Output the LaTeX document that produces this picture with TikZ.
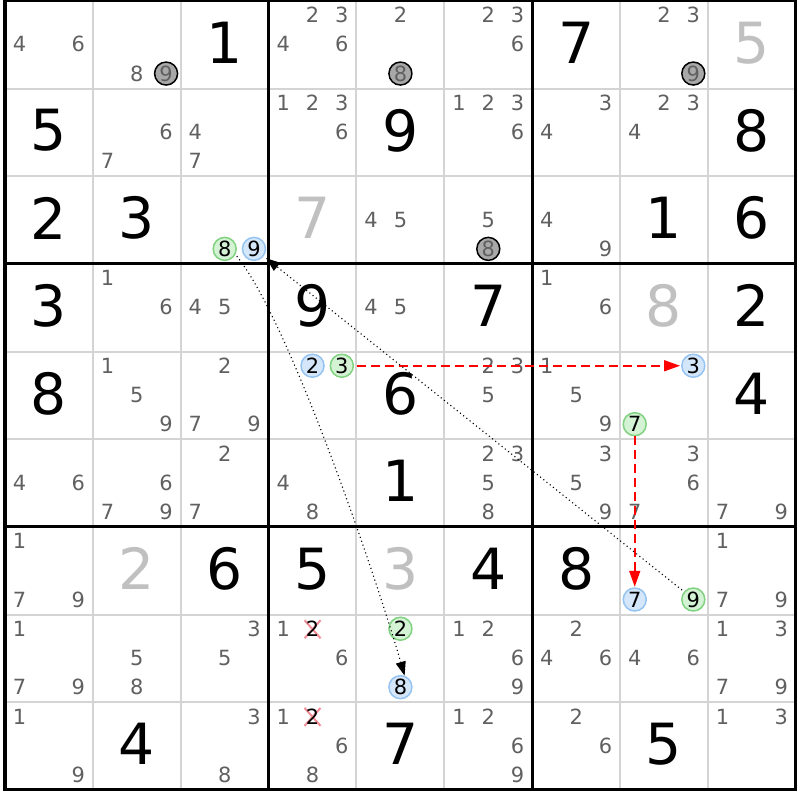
\documentclass[tikz,border=0pt]{standalone}
\usepackage{fontspec}
\setmainfont{DejaVu Sans}
\usetikzlibrary{arrows.meta}

\begin{document}
\begin{tikzpicture}[x=29.29bp,y=-29.22bp,line join=miter,
  pencil/.style={inner sep=0pt,yshift=0.5bp,text=pencilgray,font=\fontsize{21}{21}\selectfont},
  given/.style={inner sep=0pt,yshift=2bp,text=black,font=\fontsize{57}{57}\selectfont},
  solved/.style={given,text=solvedgray},
  circled/.style={pencil,circle,minimum size=23bp,line width=1.5bp},
  graymark/.style={circled,draw=black,fill=markgray},
  greenmark/.style={circled,text=black,draw=greenline,fill=greenfill},
  bluemark/.style={circled,text=black,draw=blueline,fill=bluefill},
  crossed/.style={pencil,text=black},
  crossline/.style={draw=crossred,line width=2bp},
  cellline/.style={draw=thingray,line width=2bp},
  boxline/.style={draw=black,line width=3bp},
  chainred/.style={draw=red,line width=1.6bp,dash pattern=on 9bp off 5bp,-{Triangle[length=16bp,width=11bp]}},
  chainblack/.style={draw=black,line width=1.1bp,dash pattern=on 1.1bp off 3bp,-{Triangle[length=14bp,width=10bp]}},
]
  \definecolor{pencilgray}{RGB}{96,96,96}
  \definecolor{solvedgray}{RGB}{192,192,192}
  \definecolor{thingray}{RGB}{212,212,212}
  \definecolor{markgray}{RGB}{168,168,168}
  \definecolor{greenline}{RGB}{128,210,128}
  \definecolor{greenfill}{RGB}{212,242,212}
  \definecolor{blueline}{RGB}{150,196,242}
  \definecolor{bluefill}{RGB}{212,230,250}
  \definecolor{crossred}{RGB}{242,140,150}
  \useasboundingbox (-0.1707,-0.0342) rectangle (27.1424,27.3443);
%%
  % Grid: cell lines
  \draw[cellline] (3,0) -- (3,27);
  \draw[cellline] (6,0) -- (6,27);
  \draw[cellline] (12,0) -- (12,27);
  \draw[cellline] (15,0) -- (15,27);
  \draw[cellline] (21,0) -- (21,27);
  \draw[cellline] (24,0) -- (24,27);
  \draw[cellline] (0,3) -- (27,3);
  \draw[cellline] (0,6) -- (27,6);
  \draw[cellline] (0,12) -- (27,12);
  \draw[cellline] (0,15) -- (27,15);
  \draw[cellline] (0,21) -- (27,21);
  \draw[cellline] (0,24) -- (27,24);
  % Grid: box lines
  \draw[boxline] (9,0) -- (9,27);
  \draw[boxline] (18,0) -- (18,27);
  \draw[boxline] (0,9) -- (27,9);
  \draw[boxline] (0,18) -- (27,18);
  \draw[boxline] (0,0) rectangle (27,27);
%%
  % Cell: r1c1
\begin{scope}[shift={(0,0)}]
  \node (r1c1d4) [pencil] at (0.5,1.5) {4};
  \node (r1c1d6) [pencil] at (2.5,1.5) {6};
\end{scope}
  % Cell: r1c2
\begin{scope}[shift={(3,0)}]
  \node (r1c2d8) [pencil] at (1.5,2.5) {8};
  \node (r1c2d9) [graymark] at (2.5,2.5) {9};
\end{scope}
  % Cell: r1c3
\begin{scope}[shift={(6,0)}]
  \node (r1c3) [given] at (1.5,1.5) {1};
\end{scope}
  % Cell: r1c4
\begin{scope}[shift={(9,0)}]
  \node (r1c4d2) [pencil] at (1.5,0.5) {2};
  \node (r1c4d3) [pencil] at (2.5,0.5) {3};
  \node (r1c4d4) [pencil] at (0.5,1.5) {4};
  \node (r1c4d6) [pencil] at (2.5,1.5) {6};
\end{scope}
  % Cell: r1c5
\begin{scope}[shift={(12,0)}]
  \node (r1c5d2) [pencil] at (1.5,0.5) {2};
  \node (r1c5d8) [graymark] at (1.5,2.5) {8};
\end{scope}
  % Cell: r1c6
\begin{scope}[shift={(15,0)}]
  \node (r1c6d2) [pencil] at (1.5,0.5) {2};
  \node (r1c6d3) [pencil] at (2.5,0.5) {3};
  \node (r1c6d6) [pencil] at (2.5,1.5) {6};
\end{scope}
  % Cell: r1c7
\begin{scope}[shift={(18,0)}]
  \node (r1c7) [given] at (1.5,1.5) {7};
\end{scope}
  % Cell: r1c8
\begin{scope}[shift={(21,0)}]
  \node (r1c8d2) [pencil] at (1.5,0.5) {2};
  \node (r1c8d3) [pencil] at (2.5,0.5) {3};
  \node (r1c8d9) [graymark] at (2.5,2.5) {9};
\end{scope}
  % Cell: r1c9
\begin{scope}[shift={(24,0)}]
  \node (r1c9) [solved] at (1.5,1.5) {5};
\end{scope}
%%
  % Cell: r2c1
\begin{scope}[shift={(0,3)}]
  \node (r2c1) [given] at (1.5,1.5) {5};
\end{scope}
  % Cell: r2c2
\begin{scope}[shift={(3,3)}]
  \node (r2c2d6) [pencil] at (2.5,1.5) {6};
  \node (r2c2d7) [pencil] at (0.5,2.5) {7};
\end{scope}
  % Cell: r2c3
\begin{scope}[shift={(6,3)}]
  \node (r2c3d4) [pencil] at (0.5,1.5) {4};
  \node (r2c3d7) [pencil] at (0.5,2.5) {7};
\end{scope}
  % Cell: r2c4
\begin{scope}[shift={(9,3)}]
  \node (r2c4d1) [pencil] at (0.5,0.5) {1};
  \node (r2c4d2) [pencil] at (1.5,0.5) {2};
  \node (r2c4d3) [pencil] at (2.5,0.5) {3};
  \node (r2c4d6) [pencil] at (2.5,1.5) {6};
\end{scope}
  % Cell: r2c5
\begin{scope}[shift={(12,3)}]
  \node (r2c5) [given] at (1.5,1.5) {9};
\end{scope}
  % Cell: r2c6
\begin{scope}[shift={(15,3)}]
  \node (r2c6d1) [pencil] at (0.5,0.5) {1};
  \node (r2c6d2) [pencil] at (1.5,0.5) {2};
  \node (r2c6d3) [pencil] at (2.5,0.5) {3};
  \node (r2c6d6) [pencil] at (2.5,1.5) {6};
\end{scope}
  % Cell: r2c7
\begin{scope}[shift={(18,3)}]
  \node (r2c7d3) [pencil] at (2.5,0.5) {3};
  \node (r2c7d4) [pencil] at (0.5,1.5) {4};
\end{scope}
  % Cell: r2c8
\begin{scope}[shift={(21,3)}]
  \node (r2c8d2) [pencil] at (1.5,0.5) {2};
  \node (r2c8d3) [pencil] at (2.5,0.5) {3};
  \node (r2c8d4) [pencil] at (0.5,1.5) {4};
\end{scope}
  % Cell: r2c9
\begin{scope}[shift={(24,3)}]
  \node (r2c9) [given] at (1.5,1.5) {8};
\end{scope}
%%
  % Cell: r3c1
\begin{scope}[shift={(0,6)}]
  \node (r3c1) [given] at (1.5,1.5) {2};
\end{scope}
  % Cell: r3c2
\begin{scope}[shift={(3,6)}]
  \node (r3c2) [given] at (1.5,1.5) {3};
\end{scope}
  % Cell: r3c3
\begin{scope}[shift={(6,6)}]
  \node (r3c3d8) [greenmark] at (1.5,2.5) {8};
  \node (r3c3d9) [bluemark] at (2.5,2.5) {9};
\end{scope}
  % Cell: r3c4
\begin{scope}[shift={(9,6)}]
  \node (r3c4) [solved] at (1.5,1.5) {7};
\end{scope}
  % Cell: r3c5
\begin{scope}[shift={(12,6)}]
  \node (r3c5d4) [pencil] at (0.5,1.5) {4};
  \node (r3c5d5) [pencil] at (1.5,1.5) {5};
\end{scope}
  % Cell: r3c6
\begin{scope}[shift={(15,6)}]
  \node (r3c6d5) [pencil] at (1.5,1.5) {5};
  \node (r3c6d8) [graymark] at (1.5,2.5) {8};
\end{scope}
  % Cell: r3c7
\begin{scope}[shift={(18,6)}]
  \node (r3c7d4) [pencil] at (0.5,1.5) {4};
  \node (r3c7d9) [pencil] at (2.5,2.5) {9};
\end{scope}
  % Cell: r3c8
\begin{scope}[shift={(21,6)}]
  \node (r3c8) [given] at (1.5,1.5) {1};
\end{scope}
  % Cell: r3c9
\begin{scope}[shift={(24,6)}]
  \node (r3c9) [given] at (1.5,1.5) {6};
\end{scope}
%%
  % Cell: r4c1
\begin{scope}[shift={(0,9)}]
  \node (r4c1) [given] at (1.5,1.5) {3};
\end{scope}
  % Cell: r4c2
\begin{scope}[shift={(3,9)}]
  \node (r4c2d1) [pencil] at (0.5,0.5) {1};
  \node (r4c2d6) [pencil] at (2.5,1.5) {6};
\end{scope}
  % Cell: r4c3
\begin{scope}[shift={(6,9)}]
  \node (r4c3d4) [pencil] at (0.5,1.5) {4};
  \node (r4c3d5) [pencil] at (1.5,1.5) {5};
\end{scope}
  % Cell: r4c4
\begin{scope}[shift={(9,9)}]
  \node (r4c4) [given] at (1.5,1.5) {9};
\end{scope}
  % Cell: r4c5
\begin{scope}[shift={(12,9)}]
  \node (r4c5d4) [pencil] at (0.5,1.5) {4};
  \node (r4c5d5) [pencil] at (1.5,1.5) {5};
\end{scope}
  % Cell: r4c6
\begin{scope}[shift={(15,9)}]
  \node (r4c6) [given] at (1.5,1.5) {7};
\end{scope}
  % Cell: r4c7
\begin{scope}[shift={(18,9)}]
  \node (r4c7d1) [pencil] at (0.5,0.5) {1};
  \node (r4c7d6) [pencil] at (2.5,1.5) {6};
\end{scope}
  % Cell: r4c8
\begin{scope}[shift={(21,9)}]
  \node (r4c8) [solved] at (1.5,1.5) {8};
\end{scope}
  % Cell: r4c9
\begin{scope}[shift={(24,9)}]
  \node (r4c9) [given] at (1.5,1.5) {2};
\end{scope}
%%
  % Cell: r5c1
\begin{scope}[shift={(0,12)}]
  \node (r5c1) [given] at (1.5,1.5) {8};
\end{scope}
  % Cell: r5c2
\begin{scope}[shift={(3,12)}]
  \node (r5c2d1) [pencil] at (0.5,0.5) {1};
  \node (r5c2d5) [pencil] at (1.5,1.5) {5};
  \node (r5c2d9) [pencil] at (2.5,2.5) {9};
\end{scope}
  % Cell: r5c3
\begin{scope}[shift={(6,12)}]
  \node (r5c3d2) [pencil] at (1.5,0.5) {2};
  \node (r5c3d7) [pencil] at (0.5,2.5) {7};
  \node (r5c3d9) [pencil] at (2.5,2.5) {9};
\end{scope}
  % Cell: r5c4
\begin{scope}[shift={(9,12)}]
  \node (r5c4d2) [bluemark] at (1.5,0.5) {2};
  \node (r5c4d3) [greenmark] at (2.5,0.5) {3};
\end{scope}
  % Cell: r5c5
\begin{scope}[shift={(12,12)}]
  \node (r5c5) [given] at (1.5,1.5) {6};
\end{scope}
  % Cell: r5c6
\begin{scope}[shift={(15,12)}]
  \node (r5c6d2) [pencil] at (1.5,0.5) {2};
  \node (r5c6d3) [pencil] at (2.5,0.5) {3};
  \node (r5c6d5) [pencil] at (1.5,1.5) {5};
\end{scope}
  % Cell: r5c7
\begin{scope}[shift={(18,12)}]
  \node (r5c7d1) [pencil] at (0.5,0.5) {1};
  \node (r5c7d5) [pencil] at (1.5,1.5) {5};
  \node (r5c7d9) [pencil] at (2.5,2.5) {9};
\end{scope}
  % Cell: r5c8
\begin{scope}[shift={(21,12)}]
  \node (r5c8d3) [bluemark] at (2.5,0.5) {3};
  \node (r5c8d7) [greenmark] at (0.5,2.5) {7};
\end{scope}
  % Cell: r5c9
\begin{scope}[shift={(24,12)}]
  \node (r5c9) [given] at (1.5,1.5) {4};
\end{scope}
%%
  % Cell: r6c1
\begin{scope}[shift={(0,15)}]
  \node (r6c1d4) [pencil] at (0.5,1.5) {4};
  \node (r6c1d6) [pencil] at (2.5,1.5) {6};
\end{scope}
  % Cell: r6c2
\begin{scope}[shift={(3,15)}]
  \node (r6c2d6) [pencil] at (2.5,1.5) {6};
  \node (r6c2d7) [pencil] at (0.5,2.5) {7};
  \node (r6c2d9) [pencil] at (2.5,2.5) {9};
\end{scope}
  % Cell: r6c3
\begin{scope}[shift={(6,15)}]
  \node (r6c3d2) [pencil] at (1.5,0.5) {2};
  \node (r6c3d7) [pencil] at (0.5,2.5) {7};
\end{scope}
  % Cell: r6c4
\begin{scope}[shift={(9,15)}]
  \node (r6c4d4) [pencil] at (0.5,1.5) {4};
  \node (r6c4d8) [pencil] at (1.5,2.5) {8};
\end{scope}
  % Cell: r6c5
\begin{scope}[shift={(12,15)}]
  \node (r6c5) [given] at (1.5,1.5) {1};
\end{scope}
  % Cell: r6c6
\begin{scope}[shift={(15,15)}]
  \node (r6c6d2) [pencil] at (1.5,0.5) {2};
  \node (r6c6d3) [pencil] at (2.5,0.5) {3};
  \node (r6c6d5) [pencil] at (1.5,1.5) {5};
  \node (r6c6d8) [pencil] at (1.5,2.5) {8};
\end{scope}
  % Cell: r6c7
\begin{scope}[shift={(18,15)}]
  \node (r6c7d3) [pencil] at (2.5,0.5) {3};
  \node (r6c7d5) [pencil] at (1.5,1.5) {5};
  \node (r6c7d9) [pencil] at (2.5,2.5) {9};
\end{scope}
  % Cell: r6c8
\begin{scope}[shift={(21,15)}]
  \node (r6c8d3) [pencil] at (2.5,0.5) {3};
  \node (r6c8d6) [pencil] at (2.5,1.5) {6};
  \node (r6c8d7) [pencil] at (0.5,2.5) {7};
\end{scope}
  % Cell: r6c9
\begin{scope}[shift={(24,15)}]
  \node (r6c9d7) [pencil] at (0.5,2.5) {7};
  \node (r6c9d9) [pencil] at (2.5,2.5) {9};
\end{scope}
%%
  % Cell: r7c1
\begin{scope}[shift={(0,18)}]
  \node (r7c1d1) [pencil] at (0.5,0.5) {1};
  \node (r7c1d7) [pencil] at (0.5,2.5) {7};
  \node (r7c1d9) [pencil] at (2.5,2.5) {9};
\end{scope}
  % Cell: r7c2
\begin{scope}[shift={(3,18)}]
  \node (r7c2) [solved] at (1.5,1.5) {2};
\end{scope}
  % Cell: r7c3
\begin{scope}[shift={(6,18)}]
  \node (r7c3) [given] at (1.5,1.5) {6};
\end{scope}
  % Cell: r7c4
\begin{scope}[shift={(9,18)}]
  \node (r7c4) [given] at (1.5,1.5) {5};
\end{scope}
  % Cell: r7c5
\begin{scope}[shift={(12,18)}]
  \node (r7c5) [solved] at (1.5,1.5) {3};
\end{scope}
  % Cell: r7c6
\begin{scope}[shift={(15,18)}]
  \node (r7c6) [given] at (1.5,1.5) {4};
\end{scope}
  % Cell: r7c7
\begin{scope}[shift={(18,18)}]
  \node (r7c7) [given] at (1.5,1.5) {8};
\end{scope}
  % Cell: r7c8
\begin{scope}[shift={(21,18)}]
  \node (r7c8d7) [bluemark] at (0.5,2.5) {7};
  \node (r7c8d9) [greenmark] at (2.5,2.5) {9};
\end{scope}
  % Cell: r7c9
\begin{scope}[shift={(24,18)}]
  \node (r7c9d1) [pencil] at (0.5,0.5) {1};
  \node (r7c9d7) [pencil] at (0.5,2.5) {7};
  \node (r7c9d9) [pencil] at (2.5,2.5) {9};
\end{scope}
%%
  % Cell: r8c1
\begin{scope}[shift={(0,21)}]
  \node (r8c1d1) [pencil] at (0.5,0.5) {1};
  \node (r8c1d7) [pencil] at (0.5,2.5) {7};
  \node (r8c1d9) [pencil] at (2.5,2.5) {9};
\end{scope}
  % Cell: r8c2
\begin{scope}[shift={(3,21)}]
  \node (r8c2d5) [pencil] at (1.5,1.5) {5};
  \node (r8c2d8) [pencil] at (1.5,2.5) {8};
\end{scope}
  % Cell: r8c3
\begin{scope}[shift={(6,21)}]
  \node (r8c3d3) [pencil] at (2.5,0.5) {3};
  \node (r8c3d5) [pencil] at (1.5,1.5) {5};
\end{scope}
  % Cell: r8c4
\begin{scope}[shift={(9,21)}]
  \node (r8c4d1) [pencil] at (0.5,0.5) {1};
  \coordinate (r8c4x) at (1.5,0.5);
  \draw[crossline] ([shift={(-8bp,9bp)}]r8c4x) -- ([shift={(8bp,-9bp)}]r8c4x);
  \draw[crossline] ([shift={(-8bp,-9bp)}]r8c4x) -- ([shift={(8bp,9bp)}]r8c4x);
  \node (r8c4d2) [crossed] at (r8c4x) {2};
  \node (r8c4d6) [pencil] at (2.5,1.5) {6};
\end{scope}
  % Cell: r8c5
\begin{scope}[shift={(12,21)}]
  \node (r8c5d2) [greenmark] at (1.5,0.5) {2};
  \node (r8c5d8) [bluemark] at (1.5,2.5) {8};
\end{scope}
  % Cell: r8c6
\begin{scope}[shift={(15,21)}]
  \node (r8c6d1) [pencil] at (0.5,0.5) {1};
  \node (r8c6d2) [pencil] at (1.5,0.5) {2};
  \node (r8c6d6) [pencil] at (2.5,1.5) {6};
  \node (r8c6d9) [pencil] at (2.5,2.5) {9};
\end{scope}
  % Cell: r8c7
\begin{scope}[shift={(18,21)}]
  \node (r8c7d2) [pencil] at (1.5,0.5) {2};
  \node (r8c7d4) [pencil] at (0.5,1.5) {4};
  \node (r8c7d6) [pencil] at (2.5,1.5) {6};
\end{scope}
  % Cell: r8c8
\begin{scope}[shift={(21,21)}]
  \node (r8c8d4) [pencil] at (0.5,1.5) {4};
  \node (r8c8d6) [pencil] at (2.5,1.5) {6};
\end{scope}
  % Cell: r8c9
\begin{scope}[shift={(24,21)}]
  \node (r8c9d1) [pencil] at (0.5,0.5) {1};
  \node (r8c9d3) [pencil] at (2.5,0.5) {3};
  \node (r8c9d7) [pencil] at (0.5,2.5) {7};
  \node (r8c9d9) [pencil] at (2.5,2.5) {9};
\end{scope}
%%
  % Cell: r9c1
\begin{scope}[shift={(0,24)}]
  \node (r9c1d1) [pencil] at (0.5,0.5) {1};
  \node (r9c1d9) [pencil] at (2.5,2.5) {9};
\end{scope}
  % Cell: r9c2
\begin{scope}[shift={(3,24)}]
  \node (r9c2) [given] at (1.5,1.5) {4};
\end{scope}
  % Cell: r9c3
\begin{scope}[shift={(6,24)}]
  \node (r9c3d3) [pencil] at (2.5,0.5) {3};
  \node (r9c3d8) [pencil] at (1.5,2.5) {8};
\end{scope}
  % Cell: r9c4
\begin{scope}[shift={(9,24)}]
  \node (r9c4d1) [pencil] at (0.5,0.5) {1};
  \coordinate (r9c4x) at (1.5,0.5);
  \draw[crossline] ([shift={(-8bp,9bp)}]r9c4x) -- ([shift={(8bp,-9bp)}]r9c4x);
  \draw[crossline] ([shift={(-8bp,-9bp)}]r9c4x) -- ([shift={(8bp,9bp)}]r9c4x);
  \node (r9c4d2) [crossed] at (r9c4x) {2};
  \node (r9c4d6) [pencil] at (2.5,1.5) {6};
  \node (r9c4d8) [pencil] at (1.5,2.5) {8};
\end{scope}
  % Cell: r9c5
\begin{scope}[shift={(12,24)}]
  \node (r9c5) [given] at (1.5,1.5) {7};
\end{scope}
  % Cell: r9c6
\begin{scope}[shift={(15,24)}]
  \node (r9c6d1) [pencil] at (0.5,0.5) {1};
  \node (r9c6d2) [pencil] at (1.5,0.5) {2};
  \node (r9c6d6) [pencil] at (2.5,1.5) {6};
  \node (r9c6d9) [pencil] at (2.5,2.5) {9};
\end{scope}
  % Cell: r9c7
\begin{scope}[shift={(18,24)}]
  \node (r9c7d2) [pencil] at (1.5,0.5) {2};
  \node (r9c7d6) [pencil] at (2.5,1.5) {6};
\end{scope}
  % Cell: r9c8
\begin{scope}[shift={(21,24)}]
  \node (r9c8) [given] at (1.5,1.5) {5};
\end{scope}
  % Cell: r9c9
\begin{scope}[shift={(24,24)}]
  \node (r9c9d1) [pencil] at (0.5,0.5) {1};
  \node (r9c9d3) [pencil] at (2.5,0.5) {3};
\end{scope}
%%
  % Edge: r5c4 3 -> r5c8 3
  \draw[chainred,shorten <=3bp,shorten >=1bp] (r5c4d3) -- (r5c8d3);
  % Edge: r5c8 7 -> r7c8 7
  \draw[chainred,shorten >=0.5bp] (r5c8d7) -- (r7c8d7);
  % Edge: r7c8 9 -> r3c3 9
  \draw[chainblack,shorten <=2.5bp,shorten >=3bp] (r7c8d9.140) -- (r3c3d9.-37);
  % Edge: r3c3 8 -> r8c5 8
  \draw[chainblack,shorten <=2bp] (r3c3d8.-28) to[out=-51,in=106,looseness=0.5] (r8c5d8.70);
%
\end{tikzpicture}
\end{document}
